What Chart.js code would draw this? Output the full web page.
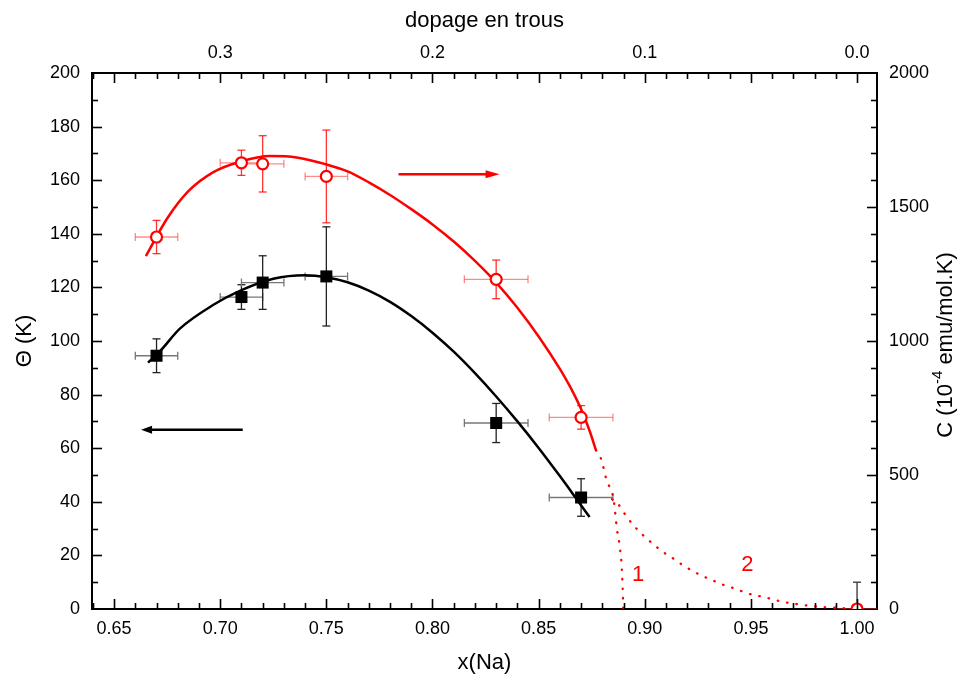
<!DOCTYPE html>
<html><head><meta charset="utf-8">
<script src="https://cdn.jsdelivr.net/npm/chart.js@4/dist/chart.umd.min.js"></script>
<style>html,body{margin:0;padding:0;background:#fff}</style>
</head><body>
<canvas id="c" width="961" height="680"></canvas>
<script>
const FONT = '"Liberation Sans", Arial, sans-serif';

// ---- axis ranges / tick labels ----
const xMin = 0.6396, xMax = 1.0094;
const xTickValues = [0.65, 0.70, 0.75, 0.80, 0.85, 0.90, 0.95, 1.00];
const dopingTickValues = [0.0, 0.1, 0.2, 0.3];
const thetaTickValues = [0, 20, 40, 60, 80, 100, 120, 140, 160, 180, 200];
const cTickValues = [0, 500, 1000, 1500, 2000];

// ---- Theta (K), black squares, left axis ----
const thetaX    = [0.67, 0.71, 0.72, 0.75, 0.83, 0.87];
const thetaY    = [94.5, 116.4, 121.8, 124.1, 69.4, 41.6];
const thetaYErr = [6.3, 4.6, 10, 18.5, 7.3, 7];
const thetaXErr = [0.01, 0.01, 0.01, 0.01, 0.015, 0.015];

// ---- C (1e-4 emu/mol.K), red open circles, right axis ----
const cX    = [0.67, 0.71, 0.72, 0.75, 0.83, 0.87, 1.00];
const cY    = [1388, 1665, 1661, 1614, 1230, 715, 0];
const cYErr = [62, 47, 105, 173, 72, 44, 100];
const cXErr = [0.01, 0.01, 0.01, 0.01, 0.015, 0.015, 0.01];

// ---- fitted curves ----
const thetaFitX = [0.666, 0.672, 0.681, 0.697, 0.709, 0.725, 0.740, 0.750, 0.760, 0.770, 0.780, 0.790, 0.800, 0.810, 0.820, 0.830, 0.840, 0.850, 0.860, 0.867, 0.874];
const thetaFitY = [91.9, 96.5, 104.6, 113.6, 118.6, 123.2, 124.5, 123.8, 121.9, 118.8, 114.6, 109.3, 103.1, 96.0, 88.0, 79.3, 70.0, 60.1, 49.6, 42.0, 34.3];

const cFitX = [0.665, 0.675, 0.685, 0.697, 0.709, 0.7235, 0.736, 0.750, 0.760, 0.770, 0.780, 0.790, 0.800, 0.810, 0.820, 0.830, 0.840, 0.850, 0.860, 0.865, 0.870, 0.874, 0.877];
const cFitY = [1317, 1457, 1559, 1631, 1668, 1690, 1685, 1659, 1633, 1592, 1545, 1492, 1435, 1371, 1299, 1218, 1124, 1017, 896, 827, 746, 665, 593];

const curve1X = [0.877, 0.8794, 0.8821, 0.8853, 0.8869, 0.8884, 0.8892, 0.8896, 0.8899];
const curve1Y = [593, 560, 479, 410, 298, 223, 148, 74, 0];

const curve2X = [0.8846, 0.8877, 0.8909, 0.8945, 0.8990, 0.9037, 0.9084, 0.9131, 0.9179, 0.9225, 0.9272, 0.9320, 0.9367, 0.9414, 0.9461, 0.9508, 0.9555, 0.9602, 0.9649, 0.9696, 0.9744, 0.9791, 0.9838, 0.9885, 0.9932, 1.0];
const curve2Y = [410, 389, 351, 314, 277, 244, 214, 190, 164, 142, 123, 107, 91, 79, 65, 53, 46, 36, 27, 21, 15, 11, 7, 5, 3, 0];

// ---- annotations ----
const curveLabels = [{text:'1', x:0.8969, c:127}, {text:'2', x:0.9483, c:164}];
const arrowRed   = {x1:0.7840, x2:0.8316, c:1622};   // right axis
const arrowBlack = {x1:0.7106, x2:0.6627, t:66.9};   // left axis

const pts = (xs, ys) => xs.map((v, i) => ({x: v, y: ys[i]}));

const RED = '#ff0000';

const errorBars = {
  id: 'errorBars',
  beforeDatasetsDraw(chart) {
    const {ctx, chartArea: a, scales: {x, y, y2}} = chart;
    const cap = 4;
    ctx.save();
    ctx.beginPath(); ctx.rect(a.left, a.top, a.right - a.left, a.bottom - a.top); ctx.clip();
    const seg = (x1, y1, x2, y2c) => { ctx.beginPath(); ctx.moveTo(x1, y1); ctx.lineTo(x2, y2c); ctx.stroke(); };
    function draw(xs, ys, xe, ye, ys_, vCol, hCol) {
      xs.forEach((xv, i) => {
        const px = x.getPixelForValue(xv), py = ys_.getPixelForValue(ys[i]);
        const pyT = ys_.getPixelForValue(ys[i] + ye[i]), pyB = ys_.getPixelForValue(ys[i] - ye[i]);
        const pxL = x.getPixelForValue(xv - xe[i]), pxR = x.getPixelForValue(xv + xe[i]);
        ctx.lineWidth = 1.3;
        ctx.strokeStyle = hCol;
        seg(pxL, py, pxR, py); seg(pxL, py - cap, pxL, py + cap); seg(pxR, py - cap, pxR, py + cap);
        ctx.strokeStyle = (xv === 1.0) ? '#333' : vCol;
        seg(px, pyT, px, pyB); seg(px - cap, pyT, px + cap, pyT); seg(px - cap, pyB, px + cap, pyB);
      });
    }
    draw(thetaX, thetaY, thetaXErr, thetaYErr, y, '#222', '#777');
    draw(cX, cY, cXErr, cYErr, y2, 'rgba(255,0,0,0.8)', 'rgba(255,60,60,0.6)');
    ctx.restore();
  }
};

const decorations = {
  id: 'decorations',
  afterDatasetsDraw(chart) {
    const {ctx, chartArea: a, scales: {x, y, y2}} = chart;
    ctx.save();
    // inward ticks
    ctx.strokeStyle = '#000'; ctx.lineWidth = 1.6;
    const seg = (x1, y1, x2, y2c) => { ctx.beginPath(); ctx.moveTo(x1, y1); ctx.lineTo(x2, y2c); ctx.stroke(); };
    for (let i = 64; i <= 100; i++) {
      const px = Math.round(x.getPixelForValue(i / 100)) + 0.5;
      if (px <= a.left + 1 || px >= a.right - 1) continue;
      const L = (i % 5 === 0) ? 10 : 6;
      seg(px, a.bottom, px, a.bottom - L);
      seg(px, a.top, px, a.top + L);
    }
    for (let v = 10; v < 200; v += 10) {
      const py = Math.round(y.getPixelForValue(v)) + 0.5;
      seg(a.left, py, a.left + ((v % 20 === 0) ? 10 : 6), py);
    }
    for (let v = 100; v < 2000; v += 100) {
      const py = Math.round(y2.getPixelForValue(v)) + 0.5;
      seg(a.right, py, a.right - ((v % 500 === 0) ? 10 : 6), py);
    }
    // arrows
    function arrow(x1, x2, py, col, w, hl, hw) {
      const p1 = x.getPixelForValue(x1), p2 = x.getPixelForValue(x2);
      const dir = Math.sign(p2 - p1);
      ctx.strokeStyle = col; ctx.fillStyle = col; ctx.lineWidth = w;
      seg(p1, py, p2 - dir * hl * 0.7, py);
      ctx.beginPath(); ctx.moveTo(p2, py); ctx.lineTo(p2 - dir * hl, py - hw); ctx.lineTo(p2 - dir * hl, py + hw); ctx.closePath(); ctx.fill();
    }
    arrow(arrowRed.x1, arrowRed.x2, y2.getPixelForValue(arrowRed.c), RED, 2.5, 14, 4);
    arrow(arrowBlack.x1, arrowBlack.x2, y.getPixelForValue(arrowBlack.t), '#000', 2.5, 11, 4);
    // curve labels
    ctx.fillStyle = RED; ctx.font = '22px ' + FONT; ctx.textAlign = 'center'; ctx.textBaseline = 'middle';
    curveLabels.forEach(l => ctx.fillText(l.text, x.getPixelForValue(l.x), y2.getPixelForValue(l.c)));
    ctx.restore();
  },
  afterDraw(chart) {
    const {ctx, chartArea: a} = chart;
    ctx.save();
    ctx.fillStyle = '#000';
    ctx.translate(946, (a.top + a.bottom) / 2 + 4);
    ctx.rotate(-Math.PI / 2);
    ctx.textBaseline = 'middle';
    const big = '22px ' + FONT, small = '15px ' + FONT;
    const parts = [['C (10', big, 0], ['-4', small, -8], [' emu/mol.K)', big, 0]];
    let total = 0;
    parts.forEach(p => { ctx.font = p[1]; total += ctx.measureText(p[0]).width; });
    let cx = -total / 2;
    ctx.textAlign = 'left';
    parts.forEach(p => { ctx.font = p[1]; ctx.fillText(p[0], cx, p[2]); cx += ctx.measureText(p[0]).width; });
    ctx.restore();
  }
};

const tickFont = {family: FONT, size: 18};
const titleFont = {family: FONT, size: 22};

new Chart(document.getElementById('c'), {
  type: 'scatter',
  data: {
    datasets: [
      {label: 'C', data: pts(cX, cY), yAxisID: 'y2', pointStyle: 'circle', pointRadius: 5.5, pointHoverRadius: 5.5,
       pointBorderWidth: 2.2, borderColor: RED, backgroundColor: '#fff', showLine: false, clip: 0},
      {label: 'Theta', data: pts(thetaX, thetaY), yAxisID: 'y', pointStyle: 'rect', pointRadius: 8.5, pointHoverRadius: 8.5,
       borderColor: '#000', backgroundColor: '#000', borderWidth: 0, showLine: false},
      {label: 'C fit', data: pts(cFitX, cFitY), yAxisID: 'y2', showLine: true, pointRadius: 0, borderColor: RED, borderWidth: 2.5,
       cubicInterpolationMode: 'monotone'},
      {label: 'Theta fit', data: pts(thetaFitX, thetaFitY), yAxisID: 'y', showLine: true, pointRadius: 0, borderColor: '#000', borderWidth: 2.5,
       cubicInterpolationMode: 'monotone'},
      {label: 'curve 1', data: pts(curve1X, curve1Y), yAxisID: 'y2', showLine: true, pointRadius: 0, borderColor: RED, borderWidth: 2.3,
       borderDash: [0.5, 9], borderCapStyle: 'round', cubicInterpolationMode: 'monotone'},
      {label: 'curve 2', data: pts(curve2X, curve2Y), yAxisID: 'y2', showLine: true, pointRadius: 0, borderColor: RED, borderWidth: 2.3,
       borderDash: [0.5, 9], borderCapStyle: 'round', cubicInterpolationMode: 'monotone'}
    ]
  },
  options: {
    responsive: false, animation: false, devicePixelRatio: 1,
    layout: {padding: 0},
    plugins: {legend: {display: false}, tooltip: {enabled: false}},
    events: [],
    scales: {
      x: {
        type: 'linear', position: 'bottom', min: xMin, max: xMax,
        afterBuildTicks: s => { s.ticks = xTickValues.map(v => ({value: v})); },
        afterFit: s => { s.height = 71; },
        ticks: {font: tickFont, color: '#000', padding: 9, maxRotation: 0, autoSkip: false, callback: v => Number(v).toFixed(2)},
        grid: {display: false, drawTicks: false},
        border: {display: true, color: '#000', width: 2},
        title: {display: true, text: 'x(Na)', font: titleFont, color: '#000', padding: {top: 0, bottom: 4}}
      },
      x2: {
        type: 'linear', position: 'top', reverse: true, min: 1 - xMax, max: 1 - xMin,
        afterBuildTicks: s => { s.ticks = dopingTickValues.map(v => ({value: v})); },
        afterFit: s => { s.height = 73; },
        ticks: {font: tickFont, color: '#000', padding: 9, maxRotation: 0, autoSkip: false, callback: v => Number(v).toFixed(1)},
        grid: {display: false, drawTicks: false},
        border: {display: true, color: '#000', width: 2},
        title: {display: true, text: 'dopage en trous', font: titleFont, color: '#000', padding: {top: 8, bottom: 0}}
      },
      y: {
        type: 'linear', position: 'left', min: 0, max: 200,
        afterBuildTicks: s => { s.ticks = thetaTickValues.map(v => ({value: v})); },
        afterFit: s => { s.width = 92; },
        ticks: {font: tickFont, color: '#000', padding: 12, autoSkip: false, callback: v => String(v)},
        grid: {display: false, drawTicks: false},
        border: {display: true, color: '#000', width: 2},
        title: {display: true, text: 'Θ (K)', font: titleFont, color: '#000', padding: {top: 12, bottom: 0}}
      },
      y2: {
        type: 'linear', position: 'right', min: 0, max: 2000,
        afterBuildTicks: s => { s.ticks = cTickValues.map(v => ({value: v})); },
        afterFit: s => { s.width = 84; },
        ticks: {font: tickFont, color: '#000', padding: 12, autoSkip: false, callback: v => String(v)},
        grid: {display: false, drawTicks: false},
        border: {display: true, color: '#000', width: 2}
      }
    }
  },
  plugins: [errorBars, decorations]
});
</script>
</body></html>
